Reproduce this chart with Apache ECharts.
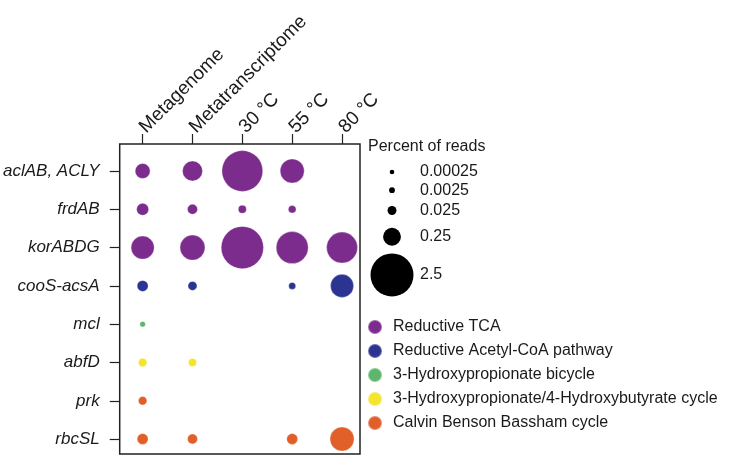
<!DOCTYPE html>
<html>
<head>
<meta charset="utf-8">
<script src="https://cdn.jsdelivr.net/npm/echarts@6/dist/echarts.min.js"></script>
<style>
  html, body { margin: 0; padding: 0; background: #fff; }
  #chart { width: 743px; height: 465px; }
</style>
</head>
<body>
<div id="chart"></div>
<script>
// samples along the top, genes down the side
const samples = ['Metagenome', 'Metatranscriptome', '30 °C', '55 °C', '80 °C'];
const genes = ['aclAB, ACLY', 'frdAB', 'korABDG', 'cooS-acsA', 'mcl', 'abfD', 'prk', 'rbcSL'];

const pathways = [
  'Reductive TCA',
  'Reductive Acetyl-CoA pathway',
  '3-Hydroxypropionate bicycle',
  '3-Hydroxypropionate/4-Hydroxybutyrate cycle',
  'Calvin Benson Bassham cycle'
];
const pathwayColors = ['#7b2c8c', '#2b3591', '#5cb76c', '#f4e52c', '#e1602a'];
// which pathway each gene belongs to
const genePathway = [0, 0, 0, 1, 2, 3, 4, 4];

// percent of reads, one value per sample (null = not detected)
const aclAB   = [0.15, 0.35, 2.2, 0.57, null];
const frdAB   = [0.074, 0.039, 0.016, 0.013, null];
const korABDG = [0.51, 0.63, 2.4, 1.2, 1.1];
const cooS    = [0.055, 0.026, null, 0.0084, 0.51];
const mcl     = [0.0018, null, null, null, null];
const abfD    = [0.021, 0.016, null, null, null];
const prk     = [0.021, null, null, null, null];
const rbcSL   = [0.055, 0.039, null, 0.055, 0.57];
const reads = [aclAB, frdAB, korABDG, cooS, mcl, abfD, prk, rbcSL];

// size key
const keyValues = [0.00025, 0.0025, 0.025, 0.25, 2.5];
const keyLabels = ['0.00025', '0.0025', '0.025', '0.25', '2.5'];

function sizeOf(v) {
  return 4 + 39 * Math.pow(v / 2.5, 0.45);
}

const font = 'Liberation Sans, Arial, sans-serif';
const ink = '#1a1a1a';

// stack the key dots below each other, big dots get a tighter gap
const keyPos = [];
keyValues.forEach((v, i) => {
  if (i === 0) { keyPos.push(0); return; }
  const half = (sizeOf(keyValues[i - 1]) + sizeOf(v)) / 2;
  const gap = 13 - 0.3 * Math.max(0, half - 13);
  keyPos.push(keyPos[i - 1] + half + gap);
});
const keyHeight = keyPos[keyPos.length - 1];

const series = pathways.map((name, p) => {
  const data = [];
  reads.forEach((row, g) => {
    if (genePathway[g] !== p) return;
    row.forEach((v, s) => {
      if (v != null) data.push([s, g, v]);
    });
  });
  return {
    name: name,
    type: 'scatter',
    xAxisIndex: 0,
    yAxisIndex: 0,
    data: data,
    symbolSize: (val) => sizeOf(val[2]),
    itemStyle: {
      color: pathwayColors[p],
      opacity: 1,
      borderColor: 'rgba(255,255,255,0.3)',
      borderWidth: 1
    }
  };
});

series.push({
  name: 'key',
  type: 'scatter',
  xAxisIndex: 1,
  yAxisIndex: 1,
  data: keyValues.map((v, i) => [0, keyPos[i], v]),
  symbolSize: (val) => sizeOf(val[2]),
  itemStyle: { color: '#000', opacity: 1 },
  silent: true
});

const chart = echarts.init(document.getElementById('chart'));
chart.setOption({
  animation: false,
  backgroundColor: '#fff',
  textStyle: { fontFamily: font },
  title: {
    text: 'Percent of reads',
    left: 368,
    top: 139,
    padding: 0,
    textStyle: { fontFamily: font, fontSize: 16, fontWeight: 'normal', color: ink }
  },
  legend: {
    data: pathways,
    orient: 'vertical',
    left: 367,
    top: 319,
    padding: 0,
    icon: 'circle',
    itemWidth: 14,
    itemHeight: 14,
    itemGap: 8,
    selectedMode: false,
    textStyle: { fontFamily: font, fontSize: 16, color: ink, padding: [0, 0, 0, 6] }
  },
  grid: [
    {
      left: 119, top: 144, width: 241, height: 310,
      show: true, borderColor: '#222', borderWidth: 1.5, backgroundColor: 'transparent'
    },
    { left: 380, top: 172, width: 24, height: keyHeight }
  ],
  xAxis: [
    {
      type: 'value',
      gridIndex: 0,
      position: 'top',
      min: -0.46,
      max: 4.36,
      splitLine: { show: false },
      axisLine: { show: false, onZero: false },
      axisTick: {
        show: true,
        length: 10,
        customValues: [0, 1, 2, 3, 4],
        lineStyle: { color: '#222', width: 1.2 }
      },
      axisLabel: {
        customValues: [0, 1, 2, 3, 4],
        formatter: (v) => samples[v],
        rotate: -45,
        margin: 14,
        fontFamily: font,
        fontSize: 19,
        color: ink
      }
    },
    {
      type: 'value',
      gridIndex: 1,
      min: -1,
      max: 1,
      show: false
    }
  ],
  yAxis: [
    {
      type: 'value',
      gridIndex: 0,
      inverse: true,
      min: -0.705,
      max: 7.39,
      splitLine: { show: false },
      axisLine: { show: false, onZero: false },
      axisTick: {
        show: true,
        length: 10,
        customValues: [0, 1, 2, 3, 4, 5, 6, 7],
        lineStyle: { color: '#222', width: 1.2 }
      },
      axisLabel: {
        customValues: [0, 1, 2, 3, 4, 5, 6, 7],
        formatter: (v) => genes[v],
        margin: 20,
        fontFamily: font,
        fontStyle: 'italic',
        fontSize: 17,
        color: ink
      }
    },
    {
      type: 'value',
      gridIndex: 1,
      inverse: true,
      position: 'right',
      min: 0,
      max: keyHeight,
      splitLine: { show: false },
      axisLine: { show: false, onZero: false },
      axisTick: { show: false },
      axisLabel: {
        customValues: keyPos,
        formatter: (v) => keyLabels[keyPos.indexOf(v)],
        margin: 16,
        fontFamily: font,
        fontSize: 16,
        color: ink
      }
    }
  ],
  series: series
});
</script>
</body>
</html>
